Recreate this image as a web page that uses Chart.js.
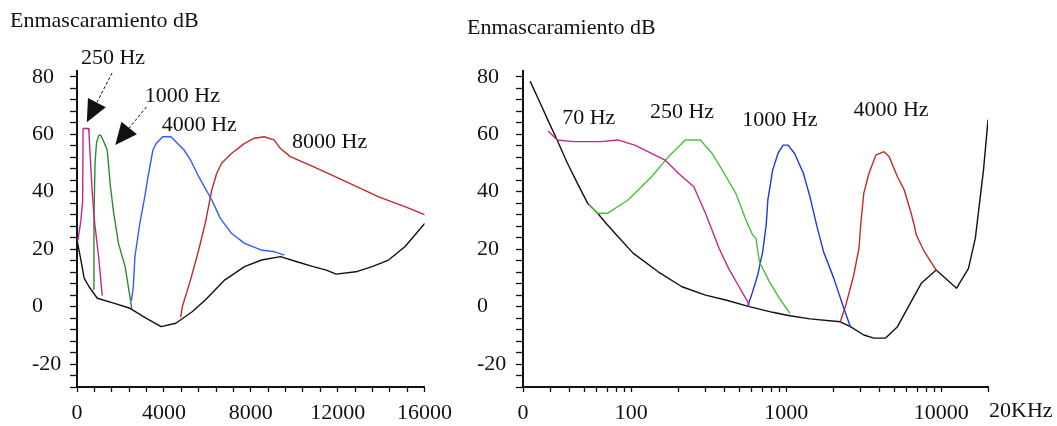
<!DOCTYPE html>
<html>
<head>
<meta charset="utf-8">
<script src="https://cdn.jsdelivr.net/npm/chart.js@4/dist/chart.umd.min.js"></script>
<style>
  html, body { margin: 0; padding: 0; background: #fff; }
  #wrap { position: relative; width: 1057px; height: 426px; overflow: hidden; }
  canvas { position: absolute; top: 0; }
  #linear { left: 0; }
  #log { left: 460px; }
</style>
</head>
<body>
<div id="wrap">
  <canvas id="linear" width="460" height="426"></canvas>
  <canvas id="log" width="597" height="426"></canvas>
</div>
<script>
// ---------- Linear frequency axis (0 - 16000 Hz) ----------
const linThresholdHz = [0, 180, 330, 556, 935, 1686, 2440, 3195, 3873, 4551, 5302, 5908, 6810, 7715, 8500, 9372, 10125, 10878, 11481, 11928, 12837, 13590, 14343, 15097, 16000];
const linThresholdDb = [23.2, 16.2, 9.9, 6.9, 2.9, 1.2, -0.6, -4.1, -7.0, -5.8, -1.8, 2.3, 9.3, 13.9, 16.2, 17.4, 15.6, 13.9, 12.7, 11.3, 12.1, 13.9, 16.2, 20.8, 28.8];

const lin250Hz = [40, 180, 260, 280, 510, 550, 600, 700, 800, 1000, 1160];
const lin250Db = [23, 30, 37, 62, 62, 61, 53, 40, 30, 17, 4];

const lin1000Hz = [770, 780, 830, 900, 1000, 1085, 1200, 1390, 1540, 1690, 1910, 2215, 2440, 2520];
const lin1000Db = [6, 30, 50, 57, 59.5, 59.7, 58, 54.5, 41.7, 32.5, 22, 13.9, 3.4, -0.6];

const lin4000Hz = [2516, 2592, 2667, 2893, 3119, 3270, 3496, 3647, 3948, 4325, 4927, 5228, 5604, 6207, 6600, 7112, 7715, 8468, 9071, 9523];
const lin4000Db = [2.3, 7, 17.4, 29, 38.2, 45.2, 54.5, 56.8, 59.1, 59.1, 54.5, 51, 45.2, 37.1, 30.7, 25.5, 22, 19.7, 19.1, 18];

const lin8000Hz = [4776, 4852, 5228, 5604, 5905, 6207, 6433, 6659, 7112, 7715, 8167, 8619, 9071, 9372, 9824, 10878, 12385, 13892, 15097, 16000];
const lin8000Db = [-3.5, 0, 9.3, 19.7, 29, 40.6, 46.4, 49.9, 53.3, 56.8, 58.6, 59.1, 58, 55, 52.2, 48.7, 43.5, 38.2, 34.8, 32];

// ---------- Logarithmic frequency axis (20 Hz - 20 kHz) ----------
const logThresholdHz = [22.3, 25.9, 29.3, 33.2, 38.7, 44.9, 52.2, 60.6, 70, 80, 102.6, 149, 212, 301, 407, 576, 816, 1053, 1421, 2230, 2589, 3159, 3670, 4355, 5210, 6220, 7420, 9260, 10530, 12540, 14970, 16570, 18700, 20000];
const logThresholdDb = [78.3, 70.7, 64.3, 58, 49.9, 42.9, 36, 32.5, 28.5, 25, 18.6, 12.1, 6.9, 4.0, 2.3, 0, -2, -3.2, -4.3, -5.3, -7, -9.9, -11, -11, -7, 0.6, 8.1, 12.7, 10, 6.4, 13.3, 23.8, 47.5, 64.9];

const log70Hz = [29.3, 33.2, 42.7, 63.8, 81.9, 105, 135, 165, 201, 253, 301, 341, 368, 424, 495, 563, 576];
const log70Db = [60.9, 58, 57.4, 57.4, 58, 56.2, 53.3, 51, 46.4, 41.7, 32.5, 24.9, 20.3, 13.3, 6.9, 1.7, 0];

const log250Hz = [53.5, 60.6, 70.5, 95.2, 135, 174, 223, 279, 332, 386, 472, 549, 606, 637, 670, 777, 901, 1053];
const log250Db = [35.4, 32.5, 32.5, 37.1, 45.2, 52.2, 58, 58, 53.3, 47.5, 39.4, 30.1, 24.9, 23.8, 15.6, 8.7, 2.9, -2.3];

const log1000Hz = [563, 606, 654, 704, 741, 760, 816, 883, 952, 1026, 1130, 1288, 1421, 1572, 1738, 2022, 2349, 2589];
const log1000Db = [0, 5.2, 11, 19.1, 28.4, 37.1, 47.5, 53.3, 56.2, 56.2, 53.3, 46.4, 38.2, 28.1, 19.1, 9.9, -0.6, -7];

const log4000Hz = [2230, 2405, 2723, 2942, 3017, 3159, 3413, 3777, 4262, 4602, 5210, 5764, 6384, 6678, 6896, 7771, 9260];
const log4000Db = [-5.3, 0, 11, 20.3, 28.4, 39.4, 46.4, 52.7, 53.9, 52.2, 45.2, 40.6, 32.5, 28.4, 24.9, 19.1, 12.7];

// ---------- Tick labels ----------
const levelLabels = [-20, 0, 20, 40, 60, 80];
const linFreqLabels = [0, 4000, 8000, 12000, 16000];
const logFreqValues = [20, 100, 1000, 10000];
const logFreqTexts = ['0', '100', '1000', '10000'];
const logEndText = '20KHz';
const titleText = 'Enmascaramiento dB';

// ---------- helpers ----------
const INK = '#111111';
const FAMILY = "'Liberation Serif', 'Times New Roman', serif";
const SIZE = 22;
const pts = (xs, ys) => xs.map((x, i) => ({ x, y: ys[i] }));
const series = (xs, ys, color) => ({
  data: pts(xs, ys), borderColor: color, borderWidth: 1.4,
  pointRadius: 0, tension: 0, fill: false
});

// minor tick positions: every 4 dB, every 800 Hz, 1-2-...-9 per decade
const levelTicks = [];
for (let v = -28; v <= 80; v += 4) levelTicks.push(v);
const linFreqTicks = [];
for (let f = 0; f <= 16000; f += 800) linFreqTicks.push(f);
const logFreqTicks = [20];
for (let dec = 10; dec <= 10000; dec *= 10) {
  for (let m = 1; m <= 9; m++) { const f = m * dec; if (f > 20 && f < 20000) logFreqTicks.push(f); }
}
logFreqTicks.push(20000);

// text notes, arrows and headings drawn over the plot
const notes = {
  id: 'notes',
  afterDraw(chart, args, o) {
    const { ctx } = chart;
    const xs = chart.scales.x, ys = chart.scales.y;
    ctx.save();
    ctx.fillStyle = INK;
    ctx.strokeStyle = INK;
    ctx.font = `${SIZE}px ${FAMILY}`;
    ctx.textAlign = 'left';
    ctx.textBaseline = 'alphabetic';
    ctx.fillText(o.title.text, o.title.left, o.title.baseline);
    ctx.textBaseline = 'middle';
    (o.labels || []).forEach(l => ctx.fillText(l.text, xs.getPixelForValue(l.hz), ys.getPixelForValue(l.db)));
    (o.arrows || []).forEach(a => {
      const x0 = xs.getPixelForValue(a.from[0]), y0 = ys.getPixelForValue(a.from[1]);
      const x1 = xs.getPixelForValue(a.to[0]), y1 = ys.getPixelForValue(a.to[1]);
      const ang = Math.atan2(y1 - y0, x1 - x0);
      const len = 22, half = 10;
      const bx = x1 - len * Math.cos(ang), by = y1 - len * Math.sin(ang);
      ctx.lineWidth = 1;
      ctx.setLineDash([3, 2]);
      ctx.beginPath(); ctx.moveTo(x0, y0); ctx.lineTo(bx, by); ctx.stroke();
      ctx.setLineDash([]);
      ctx.beginPath();
      ctx.moveTo(x1, y1);
      ctx.lineTo(bx + half * Math.sin(ang), by - half * Math.cos(ang));
      ctx.lineTo(bx - half * Math.sin(ang), by + half * Math.cos(ang));
      ctx.closePath(); ctx.fill();
    });
    if (o.axisEnd) {
      const tl = xs.options.grid.tickLength, pad = xs.options.ticks.padding;
      ctx.textBaseline = 'top';
      ctx.fillText(o.axisEnd.text, xs.getPixelForValue(o.axisEnd.hz) + 1, xs.top + tl + pad);
    }
    ctx.restore();
  }
};

const levelAxis = (width) => ({
  min: -28, max: 82,
  afterBuildTicks: s => { s.ticks = levelTicks.map(value => ({ value })); },
  afterFit: s => { s.width = width; },
  grid: { drawOnChartArea: false, drawTicks: true, tickLength: 7, color: INK, tickWidth: 1.3 },
  border: { display: true, color: INK, width: 2 },
  ticks: {
    autoSkip: false, crossAlign: 'far', padding: 0, color: INK,
    font: { family: FAMILY, size: SIZE },
    callback: v => (levelLabels.includes(v) ? String(v) : '')
  }
});

const baseOptions = {
  responsive: false, animation: false, devicePixelRatio: 1,
  plugins: { legend: { display: false }, tooltip: { enabled: false }, title: { display: false } },
  elements: { line: { borderCapStyle: 'round', borderJoinStyle: 'round' } }
};

// Left panel: linear frequency
new Chart(document.getElementById('linear'), {
  type: 'line',
  data: {
    datasets: [
      series(lin250Hz, lin250Db, '#c0288f'),
      series(lin1000Hz, lin1000Db, '#2f8a2a'),
      series(lin4000Hz, lin4000Db, '#2f5cff'),
      series(lin8000Hz, lin8000Db, '#c42a2a'),
      series(linThresholdHz, linThresholdDb, INK)
    ]
  },
  options: {
    ...baseOptions,
    layout: { padding: { left: 32, right: 30, top: 71, bottom: 0 } },
    scales: {
      x: {
        type: 'linear', min: 0, max: 16000,
        afterBuildTicks: s => { s.ticks = linFreqTicks.map(value => ({ value })); },
        afterFit: s => { s.height = 39; },
        grid: { drawOnChartArea: false, drawTicks: true, tickLength: 5, color: INK, tickWidth: 1.3 },
        border: { display: true, color: INK, width: 2 },
        ticks: {
          autoSkip: false, maxRotation: 0, padding: 8, color: INK,
          font: { family: FAMILY, size: SIZE },
          callback: v => (linFreqLabels.includes(v) ? String(v) : '')
        }
      },
      y: levelAxis(45)
    },
    plugins: {
      ...baseOptions.plugins,
      notes: {
        title: { text: titleText, left: 10, baseline: 27 },
        labels: [
          { text: '250 Hz', hz: 180, db: 86.5 },
          { text: '1000 Hz', hz: 3119, db: 73.3 },
          { text: '4000 Hz', hz: 3900, db: 63.2 },
          { text: '8000 Hz', hz: 9900, db: 57.3 }
        ],
        arrows: [
          { from: [1614, 81.3], to: [452, 64.2] },
          { from: [3196, 69.5], to: [1763, 56.2] }
        ]
      }
    }
  },
  plugins: [notes]
});

// Right panel: logarithmic frequency
new Chart(document.getElementById('log'), {
  type: 'line',
  data: {
    datasets: [
      series(log70Hz, log70Db, '#c0288f'),
      series(log250Hz, log250Db, '#46c23a'),
      series(log1000Hz, log1000Db, '#1f35e6'),
      series(log4000Hz, log4000Db, '#c42a2a'),
      series(logThresholdHz, logThresholdDb, INK)
    ]
  },
  options: {
    ...baseOptions,
    layout: { padding: { left: 17, right: 69, top: 71, bottom: 0 } },
    scales: {
      x: {
        type: 'logarithmic', min: 20, max: 20000,
        afterBuildTicks: s => { s.ticks = logFreqTicks.map(value => ({ value })); },
        afterFit: s => { s.height = 39; },
        grid: { drawOnChartArea: false, drawTicks: true, tickLength: 5, color: INK, tickWidth: 1.3 },
        border: { display: true, color: INK, width: 2 },
        ticks: {
          autoSkip: false, maxRotation: 0, padding: 8, color: INK,
          font: { family: FAMILY, size: SIZE },
          callback: v => { const i = logFreqValues.indexOf(v); return i >= 0 ? logFreqTexts[i] : ''; }
        }
      },
      y: levelAxis(46)
    },
    plugins: {
      ...baseOptions.plugins,
      notes: {
        title: { text: titleText, left: 7, baseline: 34 },
        labels: [
          { text: '70 Hz', hz: 35.8, db: 65.6 },
          { text: '250 Hz', hz: 131.8, db: 67.7 },
          { text: '1000 Hz', hz: 519.6, db: 64.9 },
          { text: '4000 Hz', hz: 2711, db: 68.4 }
        ],
        axisEnd: { text: logEndText, hz: 20000 }
      }
    }
  },
  plugins: [notes]
});
</script>
</body>
</html>
